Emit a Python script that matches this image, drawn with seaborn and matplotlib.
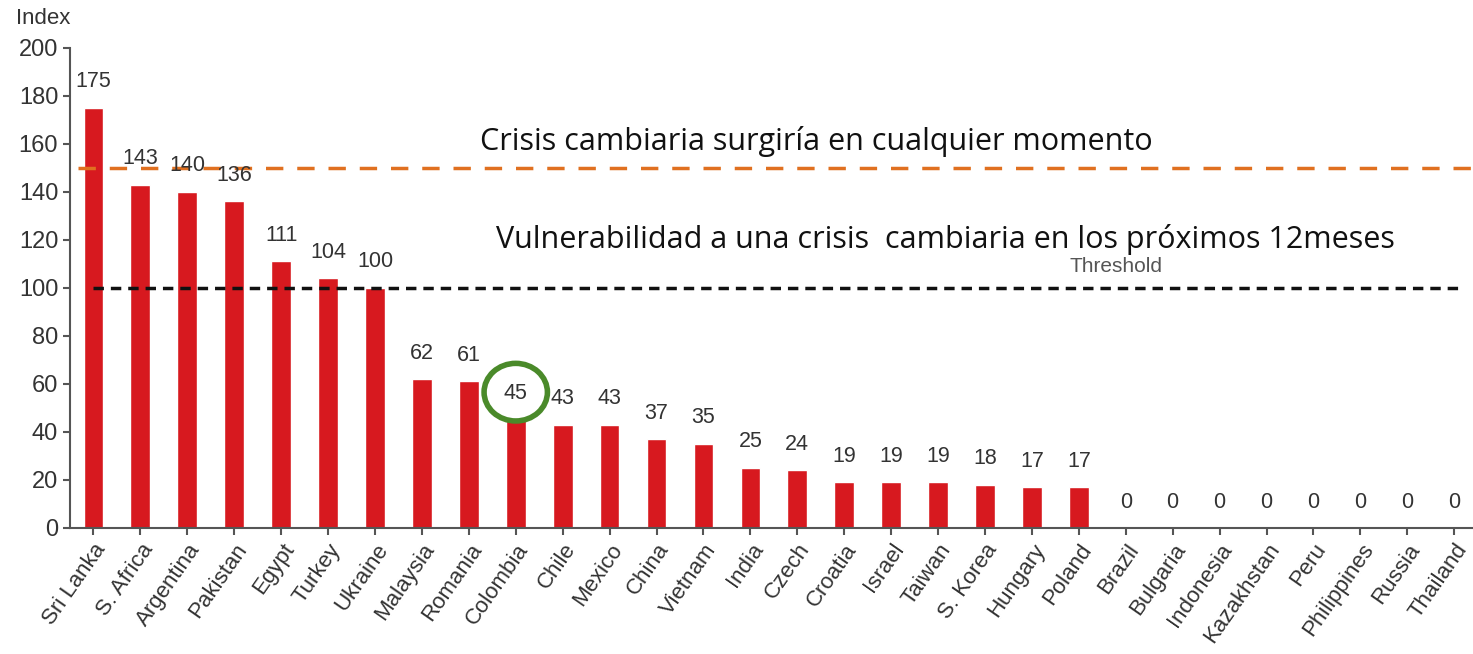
import numpy as np
import pandas as pd
import matplotlib
matplotlib.use('Agg')
import matplotlib.pyplot as plt
import seaborn as sns
from matplotlib.patches import Ellipse

countries = ['Sri Lanka', 'S. Africa', 'Argentina', 'Pakistan', 'Egypt', 'Turkey', 'Ukraine',
             'Malaysia', 'Romania', 'Colombia', 'Chile', 'Mexico', 'China', 'Vietnam', 'India',
             'Czech', 'Croatia', 'Israel', 'Taiwan', 'S. Korea', 'Hungary', 'Poland', 'Brazil',
             'Bulgaria', 'Indonesia', 'Kazakhstan', 'Peru', 'Philippines', 'Russia', 'Thailand']
values = [175, 143, 140, 136, 111, 104, 100, 62, 61, 45, 43, 43, 37, 35, 25,
          24, 19, 19, 19, 18, 17, 17, 0, 0, 0, 0, 0, 0, 0, 0]
crisis_level = 150
threshold = 100
highlight = 'Colombia'

df = pd.DataFrame({'country': countries, 'value': values})

sns.set_style('white')
plt.rcParams['font.family'] = ['Liberation Sans', 'DejaVu Sans']

fig = plt.figure(figsize=(14.73, 6.54), dpi=100)
ax = fig.add_axes([0.0475, 0.193, 0.9525, 0.734])

sns.barplot(data=df, x='country', y='value', color='#d7191f', width=0.42,
            saturation=1, ax=ax)

n = len(countries)
ax.set_xlim(-0.5, n - 0.6)
ax.set_ylim(0, 200)
ax.set_yticks(np.arange(0, 201, 20))
ax.set_xlabel('')
ax.set_ylabel('')

for i, v in enumerate(values):
    ax.annotate(str(v), (i, v), xytext=(0, 11), textcoords='offset points',
                ha='center', va='bottom', fontsize=15.5, color='#333333')

# reference lines
ax.plot([-0.32, n], [crisis_level, crisis_level], ls=(0, (5, 4)), lw=2.5,
        color='#e07020', zorder=1)
ax.plot([0, n - 0.85], [threshold, threshold], ls=(0, (3, 2)), lw=2.5,
        color='#111111', zorder=3)
ax.text(21.8, 105, 'Threshold', fontsize=15, color='#555555', ha='center', va='bottom')

ax.text(0.292, 0.805, 'Crisis cambiaria surgiría en cualquier momento',
        transform=ax.transAxes, fontsize=22, family=['Open Sans', 'DejaVu Sans'],
        color='#111111', va='center')
ax.text(0.304, 0.6, 'Vulnerabilidad a una crisis  cambiaria en los próximos 12meses',
        transform=ax.transAxes, fontsize=22, family=['Open Sans', 'DejaVu Sans'],
        color='#111111', va='center')

# green circle around highlighted value
hi = countries.index(highlight)
ax.add_patch(Ellipse((hi, values[hi] + 11.5), width=1.35, height=24, fill=False,
                     edgecolor='#4a8a2a', lw=4, zorder=5, clip_on=False))

sns.despine(ax=ax)
for s in ['left', 'bottom']:
    ax.spines[s].set_color('#555555')
    ax.spines[s].set_linewidth(1.5)
ax.tick_params(axis='both', which='major', direction='out', length=5, width=1.5,
               color='#555555', labelcolor='#333333', bottom=True, left=True)
ax.tick_params(axis='y', labelsize=17)
ax.tick_params(axis='x', labelsize=16)
plt.setp(ax.get_xticklabels(), rotation=55, ha='right', rotation_mode='anchor')

fig.text(0.011, 0.955, 'Index', fontsize=16, color='#333333', va='bottom')

fig.savefig('out.png', dpi=100)
